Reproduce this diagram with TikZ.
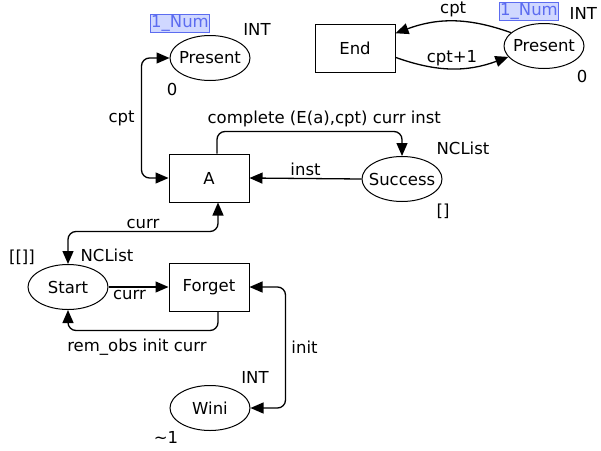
\documentclass[tikz,border=0pt]{standalone}
\usepackage{fontspec}
\setmainfont{DejaVu Sans}
\usetikzlibrary{shapes.geometric, arrows.meta}
\definecolor{numblue}{HTML}{5C6CF0}
\definecolor{numfill}{HTML}{D0D8FF}

\begin{document}
\begin{tikzpicture}[x=1pt, y=-1pt, line width=1.3pt, >={Triangle[length=13pt, width=11pt]},
    font=\fontsize{16.5pt}{19pt}\selectfont,
    place/.style={draw, ellipse, line width=1pt, minimum width=80pt, minimum height=45pt, inner xsep=-6pt, inner ysep=0pt},
    trans/.style={draw, rectangle, line width=1pt, minimum width=80pt, minimum height=48pt, inner sep=0pt},
    fusion/.style={draw=numblue, fill=numfill, text=numblue, line width=0.8pt, inner sep=1pt, minimum height=17pt}]
    \useasboundingbox (0,0) rectangle (601,450);

    \node [place] (pres1) at (210,58) {Present};
    \node [trans] (end) at (355,48) {End};
    \node [place] (pres2) at (544,46) {Present};
    \node [trans] (a) at (209,178) {A};
    \node [place] (succ) at (402,179) {Success};
    \node [place] (start) at (68,287) {Start};
    \node [trans] (forget) at (209,287) {Forget};
    \node [place] (wini) at (210,408) {Wini};

    \node [fusion] (pres1fus) at (180,23.5) {1\_Num};
    \node (pres1type) at (257,29) {INT};
    \node (pres1init) at (172,89) {0};
    \node [fusion] (pres2fus) at (529,11.5) {1\_Num};
    \node [anchor=east] (pres2type) at (601,13) {INT};
    \node (pres2init) at (582,76) {0};
    \node (succtype) at (463,148) {NCList};
    \node (succinit) at (443,211) {[]};
    \node (starttype) at (107,255) {NCList};
    \node (startinit) at (22,257) {[[]]};
    \node (winitype) at (255,377) {INT};
    \node (winiinit) at (166,437) {\textasciitilde 1};

    \draw [<->, rounded corners=8pt] (pres1.west) -- ++(-28,0) |- node [pos=0.25, left=3pt] {cpt} (a.west);
    \draw [->] (pres2.158) to [bend right=20] node [above=0pt] {cpt} (end.20);
    \draw [->] (end.-13) to [bend right=20] node [above=-1pt] {cpt+1} (pres2.197);
    \draw [->, rounded corners=8pt] ([xshift=8]a.north) -- ++(0,-22) -| node [pos=0.29, above=1pt] {complete (E(a),cpt) curr inst} (succ.north);
    \draw [->] (succ.west) -- node [above=-1pt] {inst} (a.east);
    \draw [<->, rounded corners=8pt] ([xshift=9]a.south) -- ++(0,29) -| node [pos=0.25, above=-1pt] {curr} (start.north);
    \draw [->] (start.east) -- node [pos=0.35, below=-1pt] {curr} (forget.west);
    \draw [->, rounded corners=8pt] ([xshift=9]forget.south) -- ++(0,19) -| node [pos=0.27, below=4pt] {rem\_obs init curr} (start.south);
    \draw [<->, rounded corners=8pt] (forget.east) -- ++(36,0) |- node [pos=0.25, right=2pt] {init} (wini.east);
\end{tikzpicture}
\end{document}
